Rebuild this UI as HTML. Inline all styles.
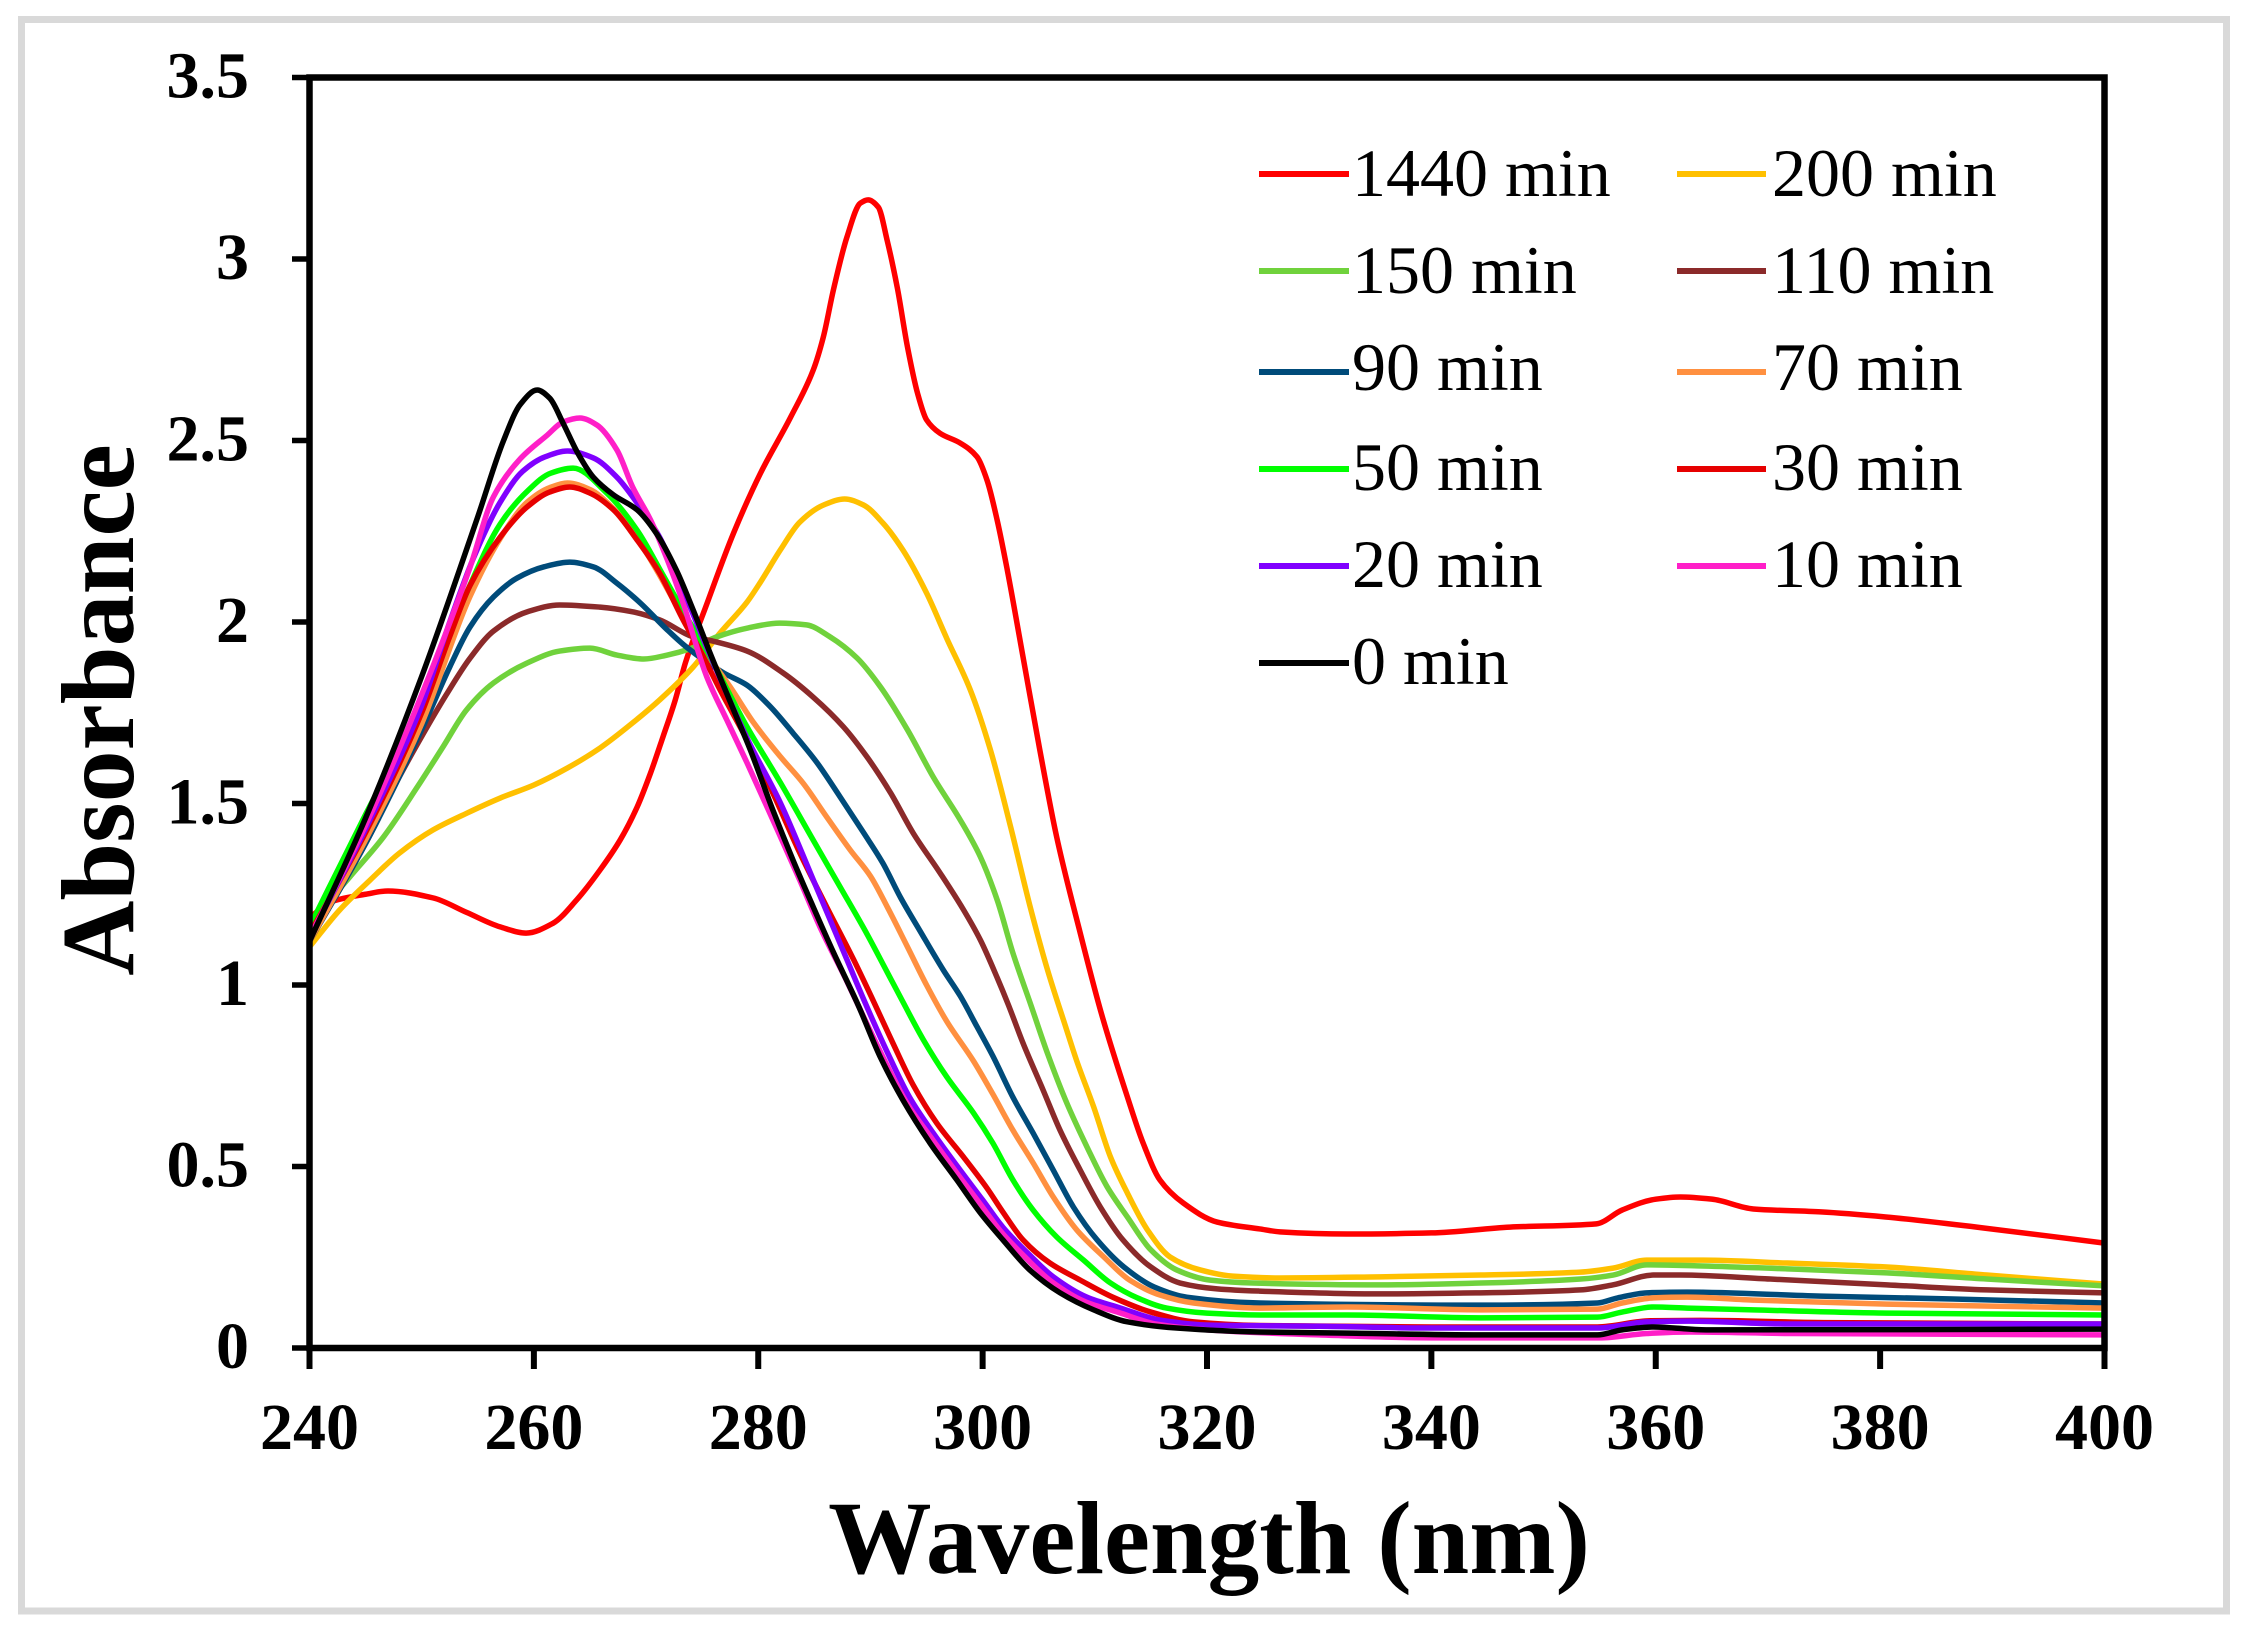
<!DOCTYPE html>
<html lang="en">
<head>
<meta charset="utf-8">
<title>Absorbance vs Wavelength</title>
<style>
html,body{margin:0;padding:0;background:#fff;}
svg{display:block;}
text{font-family:"Liberation Serif",serif;fill:#000;}
.tick-label{font-weight:bold;font-size:66px;}
.legend-text{font-size:68px;}
.axis-title{font-weight:bold;}
</style>
</head>
<body>
<svg id="chart" xmlns="http://www.w3.org/2000/svg" width="2246" height="1637" viewBox="0 0 2246 1637">
  <rect x="0" y="0" width="2246" height="1637" fill="#fff"/>
  <rect x="21.5" y="19.5" width="2205" height="1591.5" fill="#fff" stroke="#d9d9d9" stroke-width="7"/>
  <g id="series-layer"></g>
  <g id="axis-layer"></g>

  <g>
    <g>
      <line x1="1259" x2="1349" y1="174" y2="174" stroke="#ff0000" stroke-width="6"/>
      <text class="legend-text" x="1352" y="196">1440 min</text>
    </g>
    <g>
      <line x1="1677" x2="1766" y1="174" y2="174" stroke="#ffc000" stroke-width="6"/>
      <text class="legend-text" x="1772" y="196">200 min</text>
    </g>
    <g>
      <line x1="1259" x2="1349" y1="271" y2="271" stroke="#70d23c" stroke-width="6"/>
      <text class="legend-text" x="1352" y="293">150 min</text>
    </g>
    <g>
      <line x1="1677" x2="1766" y1="271" y2="271" stroke="#8b2a2a" stroke-width="6"/>
      <text class="legend-text" x="1772" y="293">110 min</text>
    </g>
    <g>
      <line x1="1259" x2="1349" y1="372" y2="372" stroke="#004b7a" stroke-width="6"/>
      <text class="legend-text" x="1352" y="390">90 min</text>
    </g>
    <g>
      <line x1="1677" x2="1766" y1="372" y2="372" stroke="#ff9040" stroke-width="6"/>
      <text class="legend-text" x="1772" y="390">70 min</text>
    </g>
    <g>
      <line x1="1259" x2="1349" y1="469" y2="469" stroke="#00ff00" stroke-width="6"/>
      <text class="legend-text" x="1352" y="490">50 min</text>
    </g>
    <g>
      <line x1="1677" x2="1766" y1="469" y2="469" stroke="#e60000" stroke-width="6"/>
      <text class="legend-text" x="1772" y="490">30 min</text>
    </g>
    <g>
      <line x1="1259" x2="1349" y1="566" y2="566" stroke="#8000ff" stroke-width="6"/>
      <text class="legend-text" x="1352" y="587">20 min</text>
    </g>
    <g>
      <line x1="1677" x2="1766" y1="566" y2="566" stroke="#ff1fc8" stroke-width="6"/>
      <text class="legend-text" x="1772" y="587">10 min</text>
    </g>
    <g>
      <line x1="1259" x2="1349" y1="663" y2="663" stroke="#000000" stroke-width="6"/>
      <text class="legend-text" x="1352" y="684">0 min</text>
    </g>
  </g>

  <text class="axis-title" x="1209" y="1573" font-size="103.5" text-anchor="middle">Wavelength (nm)</text>
  <text class="axis-title" transform="translate(133,710) rotate(-90)" x="0" y="0" font-size="104" text-anchor="middle">Absorbance</text>
</svg>

<script>
const xTicks = [240, 260, 280, 300, 320, 340, 360, 380, 400];
const yTicks = [0, 0.5, 1, 1.5, 2, 2.5, 3, 3.5];
const yTickLabels = ['0', '0.5', '1', '1.5', '2', '2.5', '3', '3.5'];

const wl1440 = [240,242,245,247,251,254,257,259.3,261.7,263.8,265.9,267.7,269.2,270.4,271.5,272.6,273.5,275.3,277.8,280.2,282.9,284.9,285.8,286.7,287.9,289.1,289.8,290.7,291.5,292.4,293.3,294.2,295,296.2,298,299.5,300.4,301.3,302.2,303.6,305.1,306.6,308.7,310.6,312.9,314.3,315.8,317.9,320.9,324.7,326.5,332.5,340,347,354.7,357,360,362.2,365,368.7,374.7,380.5,389.4,400];
const abs1440 = [1.185,1.23,1.25,1.259,1.24,1.2,1.16,1.143,1.17,1.234,1.317,1.4,1.49,1.584,1.683,1.785,1.887,2.04,2.245,2.41,2.565,2.694,2.785,2.915,3.06,3.154,3.163,3.143,3.05,2.92,2.758,2.63,2.557,2.52,2.493,2.455,2.39,2.28,2.143,1.904,1.647,1.408,1.143,0.92,0.692,0.565,0.463,0.399,0.347,0.328,0.32,0.314,0.317,0.333,0.342,0.38,0.41,0.416,0.41,0.383,0.375,0.361,0.33,0.289];

const wl200 = [240,242.7,245.4,248,251,254,257,260,263,265.9,268.8,271.2,274.2,276.6,279,280.2,282,283.7,285.8,287.7,289.4,291.1,292.9,295,296.8,298.9,300.7,302.5,304.2,305.8,307.4,308.4,309.9,311.4,312.9,314.7,316.7,319.4,322.3,326.5,335.4,344.4,353.3,356.2,359.2,364.2,371.7,380.6,389.5,400];
const abs200 = [1.105,1.207,1.289,1.363,1.427,1.473,1.515,1.551,1.598,1.653,1.722,1.785,1.876,1.97,2.055,2.11,2.2,2.275,2.322,2.339,2.322,2.273,2.198,2.08,1.955,1.813,1.647,1.435,1.22,1.04,0.885,0.79,0.664,0.526,0.427,0.325,0.251,0.215,0.198,0.193,0.196,0.201,0.209,0.22,0.242,0.242,0.234,0.223,0.201,0.176];

const wl150 = [240,242.1,243.6,246.6,249.6,251.9,254,256.4,259.4,262.3,265,267.4,269.8,271.9,273.9,276.3,279,281.9,284.3,286.4,288.8,290.9,293.3,295.6,298,299.8,301.3,302.7,304.3,305.8,307.5,309.3,311.1,312.9,315,317.3,320.3,324.1,335.4,344.4,353.3,356.2,359.2,364.2,371.7,380.6,389.5,400];
const abs150 = [1.13,1.242,1.298,1.408,1.545,1.656,1.758,1.832,1.887,1.92,1.928,1.909,1.898,1.909,1.926,1.959,1.983,1.997,1.992,1.959,1.901,1.821,1.703,1.573,1.455,1.353,1.234,1.088,0.945,0.81,0.675,0.554,0.444,0.361,0.27,0.215,0.187,0.179,0.174,0.179,0.19,0.201,0.229,0.226,0.218,0.207,0.19,0.171];

const wl110 = [240,245,248,250.1,252.2,254.3,256.4,259.4,262.3,265.9,268.8,271.2,274.2,276,279,282.2,284.9,287.6,289.7,291.8,293.8,296.2,298.3,299.8,301.3,302.3,303.6,305.4,306.9,308.7,310.5,312.5,315,317.6,320.9,324.5,335.4,344.4,353.3,356.2,359.8,362.2,370.2,380.6,389.5,400];
const abs110 = [1.12,1.39,1.573,1.69,1.8,1.9,1.975,2.028,2.047,2.041,2.028,2.006,1.959,1.947,1.92,1.86,1.793,1.711,1.628,1.529,1.419,1.309,1.207,1.124,1.02,0.945,0.84,0.71,0.6,0.49,0.388,0.298,0.223,0.179,0.163,0.157,0.149,0.152,0.16,0.174,0.201,0.201,0.19,0.174,0.16,0.152];

const wl90 = [240,245,250.1,252.5,254.3,256.4,258.5,260.9,263.2,265.3,267.4,269.5,271.9,273.6,276.9,279,281.1,283.1,285.2,287.3,289.4,291.1,292.7,294.4,296.5,298,299.5,300.9,302.7,304.5,306.3,308.1,310.2,312.6,315.3,318.2,324.7,344.4,354.8,356.6,359.2,362.8,374.7,386.5,400];
const abs90 = [1.12,1.39,1.71,1.876,1.986,2.069,2.121,2.152,2.165,2.152,2.107,2.052,1.978,1.931,1.86,1.826,1.766,1.694,1.614,1.518,1.419,1.336,1.24,1.15,1.041,0.97,0.885,0.805,0.691,0.592,0.49,0.388,0.298,0.223,0.168,0.14,0.124,0.118,0.124,0.138,0.152,0.154,0.143,0.135,0.124];

const wl70 = [240,245,250,254.3,257,259.4,261.4,263,265,267,269,271,273,275,277.5,279.6,282,284,286.1,288.2,290,291.5,293.3,295,296.8,299.2,300.9,302.7,304.5,306.3,308.4,310.8,313.1,315.8,318.8,324.7,332.5,344.4,354.8,357,359.8,362.8,368.7,380.6,400];
const abs70 = [1.12,1.4,1.72,2.07,2.23,2.33,2.37,2.383,2.365,2.315,2.24,2.14,2.03,1.93,1.821,1.722,1.628,1.556,1.463,1.372,1.3,1.215,1.105,1.0,0.9,0.79,0.7,0.6,0.51,0.416,0.325,0.251,0.187,0.146,0.124,0.11,0.113,0.105,0.107,0.124,0.138,0.14,0.132,0.121,0.11];

const wl50 = [240,245,250,254,257,259.4,261.5,263.5,266.5,269.2,271.5,273.5,275.5,279,282,284.9,287.3,289.7,291.5,292.8,294.7,296.8,299.2,300.9,302.7,304.5,306.6,309,311.4,313.8,316.4,320,324.7,332.5,344.4,354.8,357,359.8,362.8,368.7,380.6,400];
const abs50 = [1.16,1.47,1.77,2.08,2.27,2.36,2.41,2.424,2.355,2.253,2.13,2.02,1.915,1.711,1.556,1.399,1.27,1.14,1.035,0.959,0.85,0.747,0.647,0.565,0.463,0.38,0.306,0.242,0.179,0.138,0.11,0.096,0.091,0.091,0.083,0.085,0.099,0.113,0.11,0.105,0.096,0.091];

const wl30 = [240,245,250,252.5,254.3,257,259.4,261.4,263.2,265,267.1,269.2,271.2,273.3,274.8,276.6,279,281.3,283.7,286.1,288.5,290.2,292,293.8,295.9,298.3,300.4,301.8,303.6,306,308.7,311.6,315,318.8,324.7,340,354.8,359.5,364,375,400];
const abs30 = [1.14,1.42,1.75,1.96,2.1,2.234,2.317,2.358,2.372,2.355,2.309,2.226,2.135,2.006,1.923,1.813,1.675,1.529,1.364,1.215,1.07,0.96,0.84,0.725,0.62,0.526,0.44,0.375,0.298,0.234,0.187,0.14,0.099,0.072,0.062,0.058,0.058,0.075,0.076,0.07,0.066];

const wl20 = [240,245,250,252.5,254.6,257,259,261,263,265.3,267.4,269.2,271.2,273.3,275.4,279,282,284.9,287.9,289.4,291.5,293.5,295.6,298,300,301.8,304,306.3,309.3,312.3,315.8,320.3,330,340,354.8,359.2,363,372,400];
const abs20 = [1.13,1.43,1.77,2.0,2.175,2.33,2.415,2.455,2.471,2.452,2.399,2.328,2.234,2.088,1.931,1.68,1.5,1.29,1.07,0.96,0.815,0.69,0.592,0.49,0.408,0.333,0.262,0.196,0.14,0.11,0.077,0.063,0.06,0.055,0.055,0.072,0.074,0.066,0.066];

const wl10 = [240,245,250,254.3,256.4,258.8,261.2,262.6,264.1,265.6,267.4,268.8,270.4,271.9,273.3,275.4,277.2,279,281.3,283.7,285.5,287.9,289.2,291.3,293.3,295.4,297.8,299.8,301.6,303.8,306.1,309.1,312.1,315.6,320,330,340,355,359.2,363,372,400];
const abs10 = [1.13,1.44,1.8,2.15,2.345,2.45,2.515,2.551,2.562,2.543,2.474,2.372,2.281,2.171,2.052,1.85,1.73,1.612,1.455,1.289,1.16,1.01,0.925,0.79,0.672,0.58,0.478,0.396,0.322,0.25,0.184,0.128,0.098,0.065,0.05,0.036,0.028,0.028,0.04,0.044,0.04,0.036];

const wl0 = [240,245,250,255,257.3,258.8,260.3,261.4,262.6,263.9,265.3,267.1,269.2,270.9,272.7,274.2,275.7,277.8,279.3,281.3,283.1,284.9,286.7,288.9,290.9,292.9,295.3,297.7,299.8,301.8,304.2,306.9,309.9,312.9,317.3,324.7,332.5,344.4,354.8,357,359.8,364.5,400];
const abs0 = [1.12,1.46,1.85,2.29,2.5,2.6,2.639,2.617,2.548,2.466,2.399,2.35,2.309,2.245,2.143,2.033,1.915,1.758,1.647,1.482,1.344,1.215,1.09,0.945,0.8,0.683,0.565,0.463,0.372,0.298,0.215,0.152,0.105,0.072,0.055,0.044,0.041,0.036,0.036,0.05,0.058,0.05,0.052];

const seriesKeys = ['1440-min','200-min','150-min','110-min','90-min','70-min','50-min','30-min','20-min','10-min','0-min'];
const seriesWavelengths = [wl1440, wl200, wl150, wl110, wl90, wl70, wl50, wl30, wl20, wl10, wl0];
const seriesAbsorbances = [abs1440, abs200, abs150, abs110, abs90, abs70, abs50, abs30, abs20, abs10, abs0];
const seriesColors = ['#ff0000','#ffc000','#70d23c','#8b2a2a','#004b7a','#ff9040','#00ff00','#e60000','#8000ff','#ff1fc8','#000000'];

const SVG_NS = 'http://www.w3.org/2000/svg';
const plotLeft = 309.5, plotRight = 2104.5, plotTop = 77.5, plotBottom = 1348;
const xMin = 240, xMax = 400, yMin = 0, yMax = 3.5;

function xScale(v) { return plotLeft + (v - xMin) / (xMax - xMin) * (plotRight - plotLeft); }
function yScale(v) { return plotBottom - (v - yMin) / (yMax - yMin) * (plotBottom - plotTop); }

function makeEl(tag, attrs) {
  const el = document.createElementNS(SVG_NS, tag);
  for (const k in attrs) el.setAttribute(k, attrs[k]);
  return el;
}

function monotonePath(xs, ys) {
  const n = xs.length;
  const dx = [], m = [], t = new Array(n);
  for (let i = 0; i < n - 1; i++) {
    dx[i] = xs[i + 1] - xs[i];
    m[i] = (ys[i + 1] - ys[i]) / dx[i];
  }
  t[0] = m[0];
  t[n - 1] = m[n - 2];
  for (let i = 1; i < n - 1; i++) {
    if (m[i - 1] * m[i] <= 0) {
      t[i] = 0;
    } else {
      const w1 = 2 * dx[i] + dx[i - 1], w2 = dx[i] + 2 * dx[i - 1];
      t[i] = (w1 + w2) / (w1 / m[i - 1] + w2 / m[i]);
    }
  }
  let d = 'M' + xs[0].toFixed(2) + ' ' + ys[0].toFixed(2);
  for (let i = 0; i < n - 1; i++) {
    const c1x = xs[i] + dx[i] / 3, c1y = ys[i] + t[i] * dx[i] / 3;
    const c2x = xs[i + 1] - dx[i] / 3, c2y = ys[i + 1] - t[i + 1] * dx[i] / 3;
    d += 'C' + c1x.toFixed(2) + ' ' + c1y.toFixed(2) + ' ' + c2x.toFixed(2) + ' ' + c2y.toFixed(2) + ' ' + xs[i + 1].toFixed(2) + ' ' + ys[i + 1].toFixed(2);
  }
  return d;
}

const seriesLayer = document.getElementById('series-layer');
seriesKeys.forEach(function (key, i) {
  const xs = seriesWavelengths[i].map(xScale);
  const ys = seriesAbsorbances[i].map(yScale);
  const path = makeEl('path', { d: monotonePath(xs, ys), fill: 'none', stroke: seriesColors[i], 'stroke-width': 5.5, 'stroke-linejoin': 'round', 'stroke-linecap': 'butt' });
  
  
  seriesLayer.appendChild(path);
});

const axisLayer = document.getElementById('axis-layer');

const plotFrame = makeEl('rect', { x: plotLeft, y: plotTop, width: plotRight - plotLeft, height: plotBottom - plotTop, fill: 'none', stroke: '#000', 'stroke-width': 6.5 });


axisLayer.appendChild(plotFrame);

xTicks.forEach(function (v) {
  const px = xScale(v);
  const tick = makeEl('line', { x1: px, x2: px, y1: plotBottom, y2: 1369, stroke: '#000', 'stroke-width': 6 });
  
  
  axisLayer.appendChild(tick);
  const label = makeEl('text', { x: px, y: 1449, 'text-anchor': 'middle', 'class': 'tick-label' });
  label.textContent = String(v);
  
  
  axisLayer.appendChild(label);
});

yTicks.forEach(function (v, i) {
  const py = yScale(v);
  const tick = makeEl('line', { x1: 292, x2: plotLeft, y1: py, y2: py, stroke: '#000', 'stroke-width': 5.5 });
  
  
  axisLayer.appendChild(tick);
  const label = makeEl('text', { x: 249, y: py + 20, 'text-anchor': 'end', 'class': 'tick-label' });
  label.textContent = yTickLabels[i];
  
  
  axisLayer.appendChild(label);
});
</script>
</body>
</html>
